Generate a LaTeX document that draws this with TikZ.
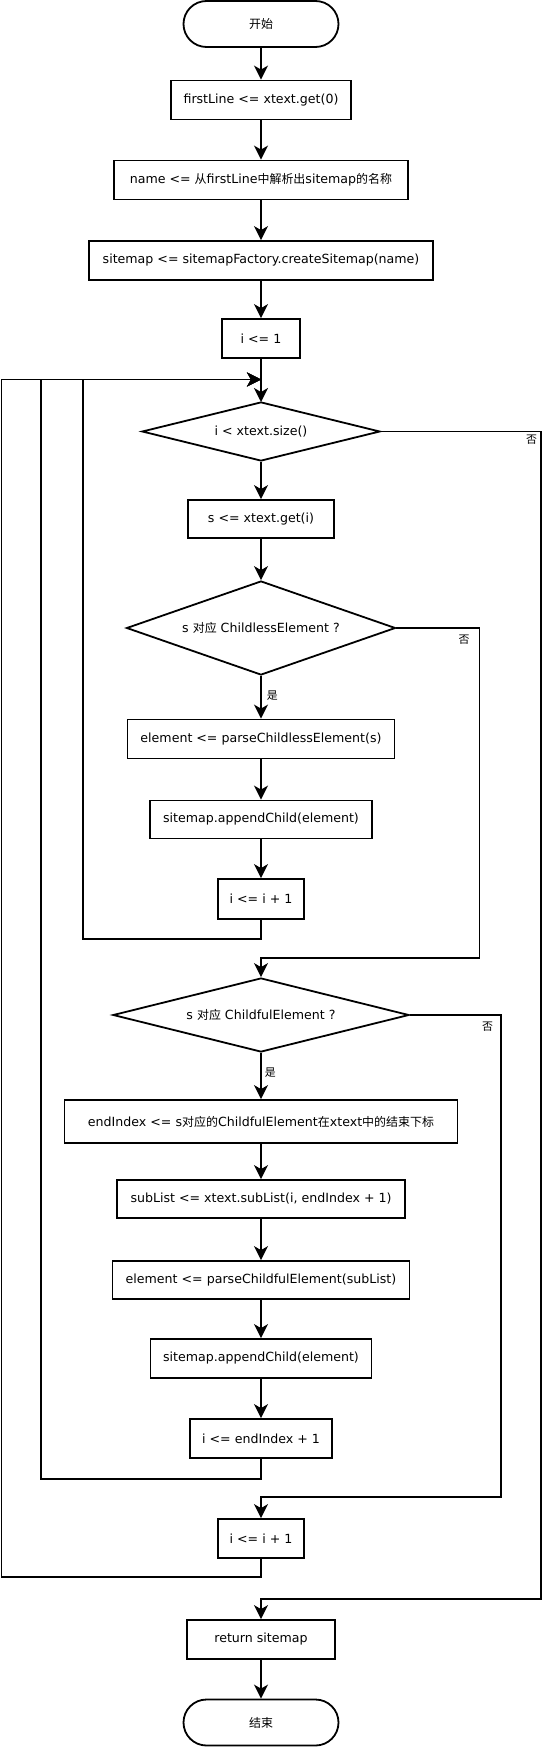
\documentclass[tikz,border=0pt]{standalone}
\usepackage{fontspec}
\setmainfont{DejaVu Sans}
\newfontfamily\cjk[Scale=0.95]{Noto Sans CJK SC}
\newcommand{\zh}[1]{{\cjk #1}}
\usetikzlibrary{shapes.geometric,arrows.meta}

\begin{document}
\begin{tikzpicture}[x=1pt, y=-1pt, line width=1.8pt,
    >={Stealth[length=14pt,width=14pt,inset=4pt]},
    every node/.style={font=\fontsize{12.6}{15}\selectfont},
    box/.style={draw, rectangle, minimum height=39},
    cond/.style={draw, diamond, inner sep=0pt},
    term/.style={draw, rectangle, rounded corners=23pt, minimum width=155, minimum height=46},
    tag/.style={font=\fontsize{11.5}{13}\selectfont\cjk, inner sep=3pt}]
    \useasboundingbox (0,0) rectangle (543,1747);
    % setup
    \node[term] (start) at (261,24) {\zh{开始}};
    \node[box, minimum width=180] (first) at (261,100) {firstLine <= xtext.get(0)};
    \node[box, minimum width=294] (name) at (261,180) {name <= \zh{从}firstLine\zh{中解析出}sitemap\zh{的名称}};
    \node[box, minimum width=344] (create) at (261,260.5) {sitemap <= sitemapFactory.createSitemap(name)};
    \node[box, minimum width=78] (init) at (261,338.5) {i <= 1};
    \coordinate (merge) at (261,379.5);
    \draw[->] (start) -- (first);
    \draw[->] (first) -- (name);
    \draw[->] (name) -- (create);
    \draw[->] (create) -- (init);
    \draw[->] (init) -- (merge) -- (261,402);
    % loop head
    \node[cond, aspect=4.03, minimum width=238, minimum height=59] (cond1) at (261,431.5) {i < xtext.size()};
    \node[box, minimum width=146, minimum height=38] (get) at (261,519) {s <= xtext.get(i)};
    \draw[->] (cond1) -- (get);
    % childless
    \node[cond, aspect=2.86, minimum width=269, minimum height=94] (cond2) at (261,628) {s \zh{对应} ChildlessElement ?};
    \node[box, minimum width=267] (parse1) at (261,739) {element <= parseChildlessElement(s)};
    \node[box, minimum width=222, minimum height=38] (append1) at (261,819.5) {sitemap.appendChild(element)};
    \node[box, minimum width=86, minimum height=40] (inc1) at (261,899) {i <= i + 1};
    \draw[->] (get) -- (cond2);
    \draw[->] (cond2) -- node[tag, right, pos=0.45, xshift=2pt] {是} (parse1);
    \draw[->] (parse1) -- (append1);
    \draw[->] (append1) -- (inc1);
    \draw[->] (inc1.south) -- (261,939) -| (83,379.5) -- (merge);
    % childful
    \node[cond, aspect=4.0, minimum width=296, minimum height=74] (cond3) at (261,1015) {s \zh{对应} ChildfulElement ?};
    \node[box, minimum width=393, minimum height=43] (endidx) at (261,1121.5) {endIndex <= s\zh{对应的}ChildfulElement\zh{在}xtext\zh{中的结束下标}};
    \node[box, minimum width=288, minimum height=38] (sublist) at (261,1199) {subList <= xtext.subList(i, endIndex + 1)};
    \node[box, minimum width=297, minimum height=38] (parse2) at (261,1280) {element <= parseChildfulElement(subList)};
    \node[box, minimum width=221] (append2) at (261,1358.5) {sitemap.appendChild(element)};
    \node[box, minimum width=142] (setidx) at (261,1438.5) {i <= endIndex + 1};
    \draw[->] (cond2.east) -- (479.5,628) node[tag, below left, xshift=-6pt, yshift=-3pt] {否} |- (261,958) -- (cond3.north);
    \draw[->] (cond3) -- node[tag, right, pos=0.42] {是} (endidx);
    \draw[->] (endidx) -- (sublist);
    \draw[->] (sublist) -- (parse2);
    \draw[->] (parse2) -- (append2);
    \draw[->] (append2) -- (setidx);
    \draw[->] (setidx.south) -- (261,1479) -| (41,379.5) -- (merge);
    % neither
    \node[box, minimum width=86] (inc2) at (261,1538.5) {i <= i + 1};
    \draw[->] (cond3.east) -- (501,1015) node[tag, below left, xshift=-4pt, yshift=-3pt] {否} |- (261,1497) -- (inc2.north);
    \draw[->] (inc2.south) -- (261,1577) -| (1.5,379.5) -- (merge);
    % exit
    \node[box, minimum width=148] (ret) at (261,1639.5) {return sitemap};
    \node[term] (end) at (261,1722.5) {\zh{结束}};
    \draw[->] (cond1.east) -- (541,431.5) node[tag, below left] {否} |- (261,1599) -- (ret.north);
    \draw[->] (ret) -- (end);
\end{tikzpicture}
\end{document}
